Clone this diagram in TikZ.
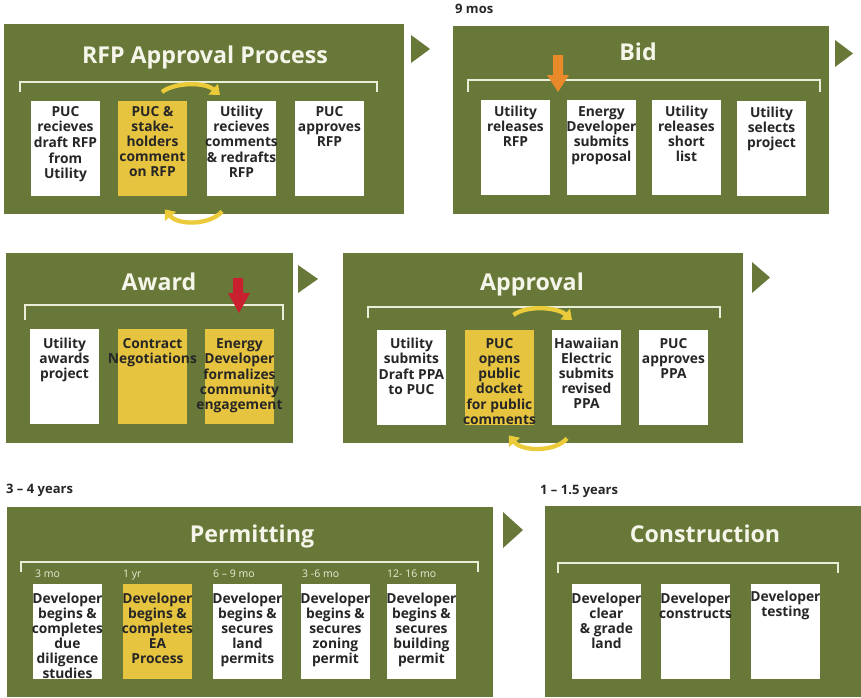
\documentclass[tikz,border=0pt]{standalone}
\usepackage{fontspec}
\setmainfont{Open Sans}
\usetikzlibrary{arrows.meta}
\definecolor{panelgreen}{HTML}{677838}
\definecolor{boxyellow}{HTML}{E6C440}
\definecolor{arrowyellow}{HTML}{EBCB3A}
\definecolor{bidorange}{HTML}{E8892A}
\definecolor{awardred}{HTML}{C8202E}
\definecolor{textdark}{HTML}{262626}
\definecolor{titlewhite}{HTML}{F5F5EA}
\definecolor{bracketcol}{HTML}{EAEDD8}
\newcommand\bl[1]{\makebox[\linewidth]{\strut #1}\par}
\newcommand\bx[2]{\parbox[c][95pt][t]{68.5pt}{\fontsize{13.8}{15}\selectfont\bfseries\vspace*{#1pt}#2}}
\tikzset{
  panel/.style={fill=panelgreen, draw=none, inner sep=0pt, anchor=north west},
  stepbox/.style={fill=white, inner sep=0pt, anchor=north west, text=textdark},
  ystepbox/.style={stepbox, fill=boxyellow},
  title/.style={text=titlewhite, font=\fontsize{23.2}{26}\selectfont\bfseries, anchor=base, inner sep=0pt},
  note/.style={text=textdark, font=\fontsize{13}{15}\selectfont\bfseries, anchor=base west, inner sep=0pt},
  dur/.style={text=bracketcol, font=\fontsize{10.5}{12}\selectfont, anchor=base west, inner sep=0pt},
  bracket/.style={draw=bracketcol, line width=1.8pt},
  flowtri/.style={fill=panelgreen},
  cyc/.style={draw=arrowyellow, line width=4.3pt, -{Triangle[length=9pt,width=14pt]}},
}
\begin{document}
\begin{tikzpicture}[x=1pt,y=-1pt]
\useasboundingbox (0,0) rectangle (861,697);
% panels
\node[panel, minimum width=400pt, minimum height=190pt] (rfp) at (4,24) {};
\node[panel, minimum width=376pt, minimum height=188pt] (bid) at (453,26) {};
\node[panel, minimum width=287pt, minimum height=190pt] (award) at (6,253) {};
\node[panel, minimum width=400pt, minimum height=190pt] (appr) at (343,253) {};
\node[panel, minimum width=486pt, minimum height=190pt] (perm) at (7,507) {};
\node[panel, minimum width=316pt, minimum height=191pt] (cons) at (545,506) {};
% flow triangles
\fill[flowtri] (411,35) -- (430,49) -- (411,63) -- cycle;
\fill[flowtri] (835,40) -- (853,53.5) -- (835,67) -- cycle;
\fill[flowtri] (298,265) -- (318,279) -- (298,293) -- cycle;
\fill[flowtri] (752,262) -- (770,277.5) -- (752,293) -- cycle;
\fill[flowtri] (503,512) -- (523,530) -- (503,548) -- cycle;
% titles
\node[title] (rfpT) at (205,63) {RFP Approval Process};
\node[title] (bidT) at (638,60) {Bid};
\node[title] (awardT) at (159,290) {Award};
\node[title] (apprT) at (532,290) {Approval};
\node[title] (permT) at (252,542) {Permitting};
\node[title] (consT) at (705,542) {Construction};
% notes
\node[note] (n9) at (455,13) {9 mos};
\node[note] (n34) at (6,493) {3 – 4 years};
\node[note] (n115) at (540,494) {1 – 1.5 years};
% brackets
\draw[bracket] (20,92) -- (20,82) -- (377,82) -- (377,92);
\draw[bracket] (468,92) -- (468,80) -- (820,80) -- (820,92);
\draw[bracket] (25,320) -- (25,305) -- (283,305) -- (283,320);
\draw[bracket] (368,318) -- (368,307) -- (720,307) -- (720,318);
\draw[bracket] (21,572) -- (21,562) -- (478,562) -- (478,572);
\draw[bracket] (558,573) -- (558,563) -- (838,563) -- (838,573);
% RFP boxes
\node[stepbox] (r1) at (31,101) {\bx{5}{\bl{PUC}\bl{recieves}\bl{draft RFP}\bl{from}\bl{Utility}}};
\node[ystepbox] (r2) at (118,101) {\bx{5}{\bl{PUC \&}\bl{stake-}\bl{holders}\bl{comment}\bl{on RFP}}};
\node[stepbox] (r3) at (207,101) {\bx{5}{\bl{Utility}\bl{recieves}\bl{comments}\bl{\& redrafts}\bl{RFP}}};
\node[stepbox] (r4) at (295,101) {\bx{5}{\bl{PUC}\bl{approves}\bl{RFP}}};
% Bid boxes
\node[stepbox] (b1) at (481,100) {\bx{6}{\bl{Utility}\bl{releases}\bl{RFP}}};
\node[stepbox] (b2) at (567,100) {\bx{6}{\bl{Energy}\bl{Developer}\bl{submits}\bl{proposal}}};
\node[stepbox] (b3) at (652,100) {\bx{6}{\bl{Utility}\bl{releases}\bl{short}\bl{list}}};
\node[stepbox] (b4) at (737,101) {\bx{6}{\bl{Utility}\bl{selects}\bl{project}}};
% Award boxes
\node[stepbox] (w1) at (30,329) {\bx{9}{\bl{Utility}\bl{awards}\bl{project}}};
\node[ystepbox] (w2) at (118,329) {\bx{9}{\bl{Contract}\bl{Negotiations}}};
\node[ystepbox] (w3) at (205,329) {\bx{9}{\bl{Energy}\bl{Developer}\bl{formalizes}\bl{community}\bl{engagement}}};
% Approval boxes
\node[stepbox] (a1) at (377,330) {\bx{8}{\bl{Utility}\bl{submits}\bl{Draft PPA}\bl{to PUC}}};
\node[ystepbox] (a2) at (465,330) {\bx{8}{\bl{PUC}\bl{opens}\bl{public}\bl{docket}\bl{for public}\bl{comments}}};
\node[stepbox] (a3) at (552,330) {\bx{8}{\bl{Hawaiian}\bl{Electric}\bl{submits}\bl{revised}\bl{PPA}}};
\node[stepbox] (a4) at (639,330) {\bx{8}{\bl{PUC}\bl{approves}\bl{PPA}}};
% Permitting durations
\node[dur] (d1) at (35,577) {3 mo};
\node[dur] (d2) at (123,577) {1 yr};
\node[dur] (d3) at (213,577) {6 – 9 mo};
\node[dur] (d4) at (302,577) {3 -6 mo};
\node[dur] (d5) at (387,577) {12- 16 mo};
% Permitting boxes
\node[stepbox] (p1) at (33,584) {\bx{9}{\bl{Developer}\bl{begins \&}\bl{completes}\bl{due}\bl{diligence}\bl{studies}}};
\node[ystepbox] (p2) at (123,584) {\bx{9}{\bl{Developer}\bl{begins \&}\bl{completes}\bl{EA}\bl{Process}}};
\node[stepbox] (p3) at (213,584) {\bx{9}{\bl{Developer}\bl{begins \&}\bl{secures}\bl{land}\bl{permits}}};
\node[stepbox] (p4) at (301,584) {\bx{9}{\bl{Developer}\bl{begins \&}\bl{secures}\bl{zoning}\bl{permit}}};
\node[stepbox] (p5) at (387,584) {\bx{9}{\bl{Developer}\bl{begins \&}\bl{secures}\bl{building}\bl{permit}}};
% Construction boxes
\node[stepbox] (c1) at (572,584) {\bx{9}{\bl{Developer}\bl{clear}\bl{\& grade}\bl{land}}};
\node[stepbox] (c2) at (661,584) {\bx{9}{\bl{Developer}\bl{constructs}}};
\node[stepbox] (c3) at (751,584) {\bx{7}{\bl{Developer}\bl{testing}}};
% cycle arrows
\draw[cyc] ([shift={(9.5,-9)}]r2.north) .. controls +(13,-10) and +(-15,-13) .. ([shift={(13,-6)}]r3.north west);
\draw[cyc] ([shift={(15,15)}]r3.south west) .. controls +(-12,14) and +(13,16) .. ([shift={(-22,13)}]r2.south east);
\draw[cyc] ([shift={(14,-15)}]a2.north) .. controls +(13,-10) and +(-15,-13) .. ([shift={(20,-10)}]a3.north west);
\draw[cyc] ([shift={(15,13)}]a3.south west) .. controls +(-12,14) and +(13,16) .. ([shift={(-25,10)}]a2.south east);
% block arrows
\fill[bidorange] (553,55) -- (563,55) -- (563,75) -- (569,75) -- (558,92) -- (547,75) -- (553,75) -- cycle;
\fill[awardred] (233,278) -- (243,278) -- (243,293) -- (250,293) -- (239,313) -- (228,293) -- (233,293) -- cycle;
\end{tikzpicture}
\end{document}
